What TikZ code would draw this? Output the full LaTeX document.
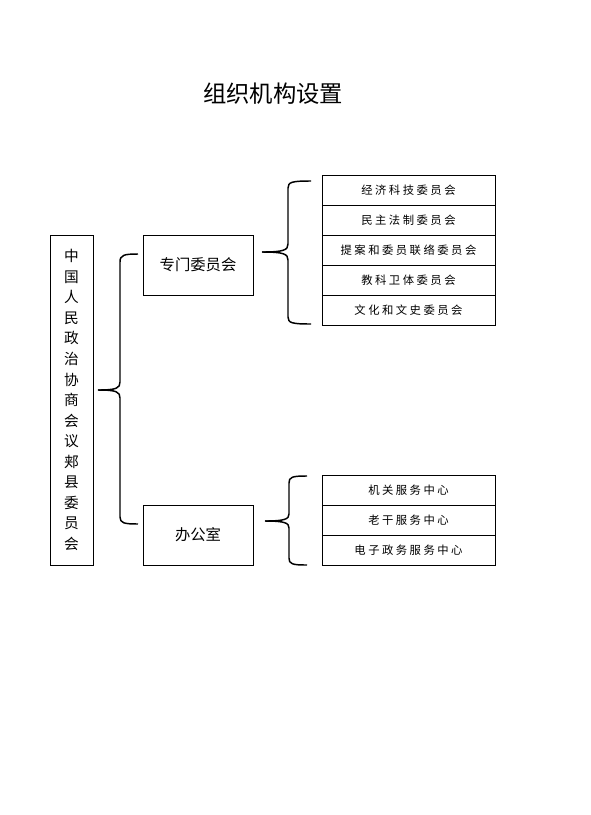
\documentclass[tikz,border=0pt]{standalone}
\usepackage{fontspec}
\setmainfont{Noto Sans CJK SC}
\newfontfamily\cjksp[LetterSpace=22]{Noto Sans CJK SC}
\begin{document}
\begin{tikzpicture}[x=0.75pt,y=-0.75pt,
  box/.style={draw=black,line width=0.75pt,inner sep=0pt},
  bigbox/.style={box,minimum width=82.5pt,minimum height=45pt,font=\fontsize{11.5pt}{14pt}\selectfont},
  smallbox/.style={box,minimum width=129.75pt,minimum height=22.5pt,font=\cjksp\fontsize{8.5pt}{10pt}\selectfont},
  brace/.style={draw=black,line width=1.1pt,line join=round}]
\useasboundingbox (0,0) rectangle (590,815);
\node[font=\fontsize{17.5pt}{20pt}\selectfont] (title) at (273,94) {组织机构设置};
\node[box,minimum width=32.25pt,minimum height=247.5pt,align=center,
  font=\fontsize{11pt}{15.4pt}\selectfont] (main) at (71.5,400)
  {中\\国\\人\\民\\政\\治\\协\\商\\会\\议\\郏\\县\\委\\员\\会};
\node[bigbox] (zm) at (198,265) {专门委员会};
\node[bigbox] (bgs) at (198,535) {办公室};
\node[smallbox] (s1) at (408.5,190) {经济科技委员会};
\node[smallbox] (s2) at (408.5,220) {民主法制委员会};
\node[smallbox] (s3) at (408.5,250) {提案和委员联络委员会};
\node[smallbox] (s4) at (408.5,280) {教科卫体委员会};
\node[smallbox] (s5) at (408.5,310) {文化和文史委员会};
\node[smallbox] (t1) at (408.5,490) {机关服务中心};
\node[smallbox] (t2) at (408.5,520) {老干服务中心};
\node[smallbox] (t3) at (408.5,550) {电子政务服务中心};
% brace 1
\coordinate (b1tip) at (98,390);
\coordinate (b1top) at (138,254);
\coordinate (b1bot) at (138,524);
\draw[brace] (b1top) .. controls (124,254) and (120,255) .. (120,262)
  -- (120,382) .. controls (120,388) and (117,390) .. (b1tip);
\draw[brace] (b1tip) .. controls (117,390) and (120,392) .. (120,398)
  -- (120,517) .. controls (120,523) and (124,524) .. (b1bot);
% brace 2
\coordinate (b2tip) at (262,252);
\coordinate (b2top) at (311,181);
\coordinate (b2bot) at (311,324);
\draw[brace] (b2top) .. controls (292,181) and (288,182) .. (288,188)
  -- (288,244) .. controls (288,250) and (284,252) .. (b2tip);
\draw[brace] (b2tip) .. controls (284,252) and (288,254) .. (288,260)
  -- (288,317) .. controls (288,323) and (292,324) .. (b2bot);
% brace 3
\coordinate (b3tip) at (265,521);
\coordinate (b3top) at (307,476);
\coordinate (b3bot) at (307,565);
\draw[brace] (b3top) .. controls (292,476) and (289,477) .. (289,483)
  -- (289,514) .. controls (289,519) and (285,521) .. (b3tip);
\draw[brace] (b3tip) .. controls (285,521) and (289,523) .. (289,528)
  -- (289,558) .. controls (289,564) and (292,565) .. (b3bot);
\end{tikzpicture}
\end{document}
